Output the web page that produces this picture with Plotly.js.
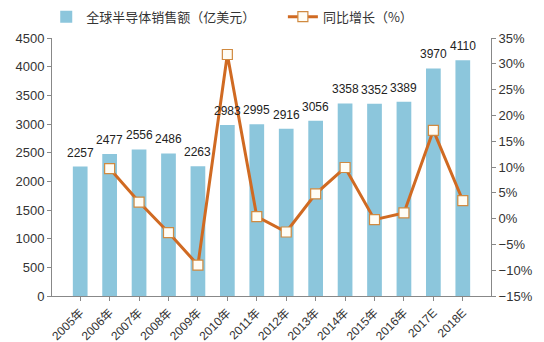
<!DOCTYPE html>
<html><head><meta charset="utf-8">
<script src="https://cdn.plot.ly/plotly-3.0.1.min.js"></script>
<style>body{margin:0;padding:0;background:#fff}#chart{width:544px;height:342px}</style>
</head><body><div id="chart"></div>
<script>
const categories = ["2005年","2006年","2007年","2008年","2009年","2010年","2011年","2012年","2013年","2014年","2015年","2016年","2017E","2018E"];
const sales = [2257,2477,2556,2486,2263,2983,2995,2916,3056,3358,3352,3389,3970,4110];
const growth = [null,9.7,3.2,-2.7,-9.0,31.8,0.4,-2.6,4.8,9.9,-0.2,1.1,17.1,3.5];
const salesName = "全球半导体销售额（亿美元）";
const growthName = "同比增长（%）";

const font = "Liberation Sans, Arial, 'Noto Sans CJK SC', sans-serif";
const cjk = "'Noto Sans CJK SC', sans-serif";
const data = [
  {type:'bar', x:categories, y:sales, name:salesName, marker:{color:'#8cc6dc'}, width:0.5, legend:'legend'},
  {type:'scatter', mode:'lines+markers', x:categories, y:growth, name:growthName, yaxis:'y2',
   line:{color:'#d06a22', width:3}, connectgaps:false, legend:'legend2',
   marker:{symbol:'square', size:10, color:'#fffdf5', line:{color:'#d08a40', width:1.2}}}
];
const annotations = categories.map((c,i)=>({x:c, y:sales[i], xref:'x', yref:'y', text:String(sales[i]),
  showarrow:false, yanchor:'bottom', yshift:5, font:{family:font, size:12, color:'#222'}}));
const legendBase = {orientation:'h', yref:'container', y:0.995, yanchor:'top', xref:'container', xanchor:'left',
    font:{family:cjk, size:13, color:'#333'}, bgcolor:'rgba(0,0,0,0)', itemwidth:30};
const layout = {
  width:544, height:342,
  margin:{l:52, r:53, t:38, b:46},
  paper_bgcolor:'#fff', plot_bgcolor:'#fff',
  font:{family:font, size:12, color:'#333'},
  showlegend:true,
  legend:Object.assign({}, legendBase, {x:0.085}),
  legend2:Object.assign({}, legendBase, {x:0.52}),
  annotations:annotations,
  bargap:0.5,
  xaxis:{type:'category', showline:true, linecolor:'#888', ticks:'outside', ticklen:4, tickcolor:'#888',
    tickangle:-45, tickfont:{family:font, size:12, color:'#333'},
    showgrid:false, zeroline:false},
  yaxis:{range:[0,4500], dtick:500, showline:true, linecolor:'#888', ticks:'outside', ticklen:4, tickcolor:'#888',
    showgrid:false, zeroline:false, tickfont:{size:13,color:'#333'}},
  yaxis2:{overlaying:'y', side:'right', range:[-15,35], dtick:5, ticksuffix:'%', showline:true, linecolor:'#888',
    ticks:'outside', ticklen:4, tickcolor:'#888', showgrid:false, zeroline:false, tickfont:{size:13,color:'#333'}}
};
Plotly.newPlot('chart', data, layout, {displayModeBar:false, staticPlot:true});
</script></body></html>
